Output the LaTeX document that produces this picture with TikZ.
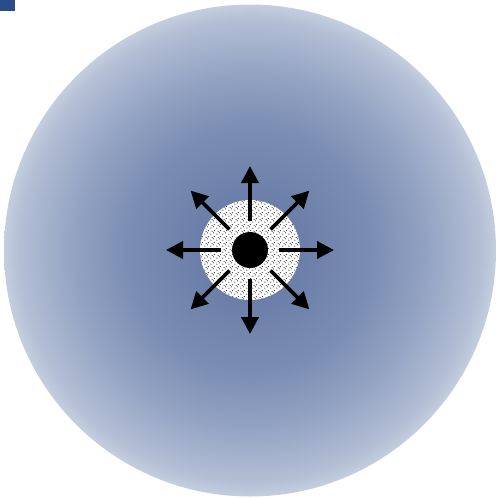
\documentclass[tikz,border=0pt]{standalone}
\usetikzlibrary{arrows.meta,patterns,calc}
\definecolor{sqblue}{RGB}{43,76,140}
\definecolor{sh0}{RGB}{96,116,160}
\definecolor{sh1}{RGB}{123,141,179}
\definecolor{sh2}{RGB}{147,163,195}
\definecolor{sh3}{RGB}{180,191,213}
\definecolor{sh4}{RGB}{196,206,223}
\pgfdeclareradialshading{bigball}{\pgfpoint{0bp}{0bp}}{%
  color(0bp)=(sh0); color(12.5bp)=(sh1); color(18bp)=(sh2); color(23.5bp)=(sh3); color(25bp)=(sh4); color(50bp)=(sh4)}
\pgfdeclarepatternformonly{stipple}{\pgfpointorigin}{\pgfpoint{6pt}{6pt}}{\pgfpoint{6pt}{6pt}}{%
  \pgfpathcircle{\pgfpoint{1pt}{1pt}}{0.6pt}
  \pgfpathcircle{\pgfpoint{4pt}{2.5pt}}{0.6pt}
  \pgfpathcircle{\pgfpoint{2.5pt}{4pt}}{0.6pt}
  \pgfpathcircle{\pgfpoint{5pt}{5pt}}{0.6pt}
  \pgfusepath{fill}}
\tikzset{
  radarrow/.style={line width=3.8pt,-{Triangle[length=17pt,width=17pt]}},
}
\begin{document}
\begin{tikzpicture}[x=1pt,y=-1pt]
\useasboundingbox (0,0) rectangle (498,499);
\fill[sqblue] (0,0) rectangle (15,11);
\shade[shading=bigball] (250,250.5) circle (246);
\node[circle,minimum size=100pt,inner sep=0pt,fill=white] (halo) at (250,250) {};
\fill[pattern=stipple,pattern color=black] (halo.center) circle (50);
\node[circle,minimum size=36pt,inner sep=0pt,fill=black] (core) at (250,250) {};
\foreach \a in {0,45,...,315}{
  \coordinate (s\a) at ($(core.center)+(\a:29)$);
  \coordinate (e\a) at ($(core.center)+(\a:84)$);
  \draw[radarrow] (s\a) -- (e\a);
}
\end{tikzpicture}
\end{document}
